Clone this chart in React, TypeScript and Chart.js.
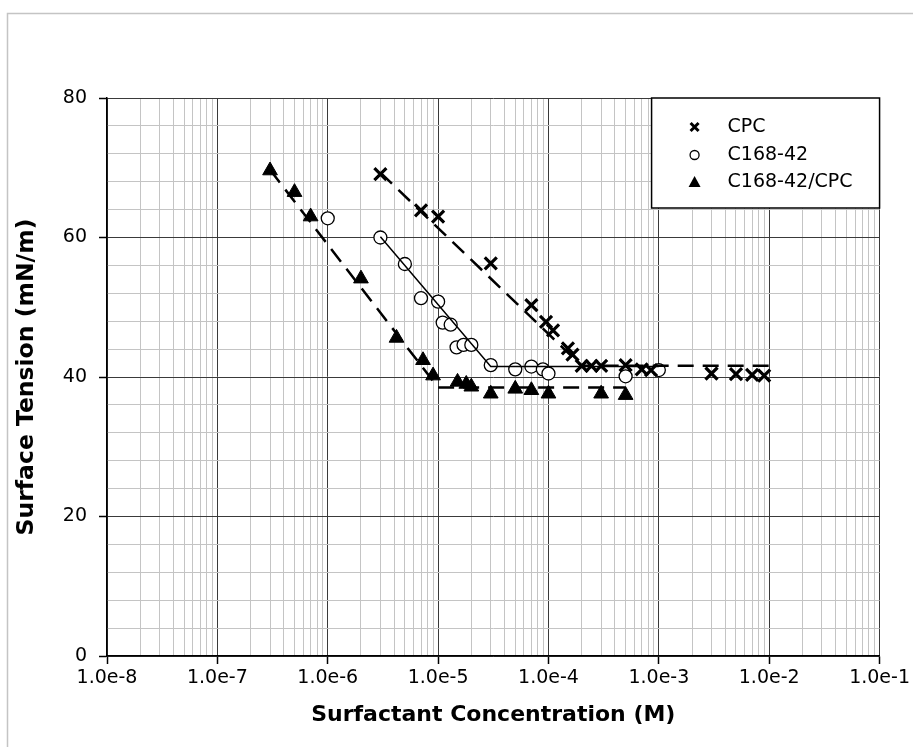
import React, { useEffect, useRef } from 'react';
import { Chart, registerables } from 'chart.js';

Chart.register(...registerables);

// ---- Axis ticks ----
const X_DECADES = [1e-8, 1e-7, 1e-6, 1e-5, 1e-4, 1e-3, 1e-2, 1e-1];
const X_TICK_LABELS = ['1.0e-8', '1.0e-7', '1.0e-6', '1.0e-5', '1.0e-4', '1.0e-3', '1.0e-2', '1.0e-1'];
const X_MINOR_MULTIPLIERS = [2, 3, 4, 5, 6, 7, 8, 9];
const Y_MIN = 0;
const Y_MAX = 80;
const Y_MINOR_STEP = 4;
const Y_MAJOR_STEP = 20;

// ---- Series: CPC (x) ----
const CPC_X = [3e-6, 7e-6, 1e-5, 3e-5, 7e-5, 9.5e-5, 1.1e-4, 1.5e-4, 1.65e-4, 2e-4, 2.45e-4, 3e-4, 5e-4, 7e-4, 8.5e-4, 3e-3, 5e-3, 7e-3, 9e-3];
const CPC_Y = [69.1, 63.9, 63.0, 56.3, 50.3, 47.9, 46.7, 44.1, 43.2, 41.6, 41.6, 41.6, 41.7, 41.1, 41.0, 40.5, 40.4, 40.3, 40.2];

// ---- Series: C168-42 (open circles) ----
const C168_X = [1e-6, 3e-6, 5e-6, 7e-6, 1e-5, 1.1e-5, 1.3e-5, 1.47e-5, 1.7e-5, 2e-5, 3e-5, 5e-5, 7e-5, 8.9e-5, 1e-4, 5e-4, 1e-3];
const C168_Y = [62.75, 60.0, 56.2, 51.3, 50.8, 47.8, 47.5, 44.25, 44.6, 44.6, 41.7, 41.1, 41.5, 41.1, 40.5, 40.1, 41.0];

// ---- Series: C168-42/CPC (filled triangles) ----
const MIX_X = [3e-7, 5e-7, 7e-7, 2e-6, 4.2e-6, 7.3e-6, 9e-6, 1.5e-5, 1.8e-5, 2e-5, 3e-5, 5e-5, 7e-5, 1e-4, 3e-4, 5e-4];
const MIX_Y = [69.6, 66.5, 63.0, 54.1, 45.6, 42.4, 40.2, 39.3, 39.0, 38.6, 37.6, 38.3, 38.1, 37.6, 37.6, 37.4];

// ---- Fit lines ----
const CPC_FIT_X = [3e-6, 2.0e-4, 1e-2];
const CPC_FIT_Y = [69.3, 41.6, 41.6];
const C168_FIT_X = [3e-6, 3e-5, 1e-3];
const C168_FIT_Y = [60.1, 41.5, 41.5];
const MIX_FIT_X = [3e-7, 1e-5, 5e-4];
const MIX_FIT_Y = [69.7, 38.5, 38.5];

const SERIES_LABELS = ['CPC', 'C168-42', 'C168-42/CPC'];

const FONT = 'DejaVu Sans';
const MAJOR_GRID = '#3a3a3a';
const MINOR_GRID = '#c4c4c4';

const toPoints = (xs: number[], ys: number[]) => xs.map((x, i) => ({ x, y: ys[i] }));

const isDecade = (v: number) => X_DECADES.some((d) => Math.abs(v - d) / d < 1e-9);

const buildXTicks = () => {
  const ticks: { value: number }[] = [];
  X_DECADES.forEach((d, i) => {
    ticks.push({ value: d });
    if (i < X_DECADES.length - 1) {
      X_MINOR_MULTIPLIERS.forEach((m) => ticks.push({ value: d * m }));
    }
  });
  return ticks;
};

const decorPlugin = {
  id: 'decor',
  beforeDraw(chart: any) {
    const { ctx, width, height } = chart;
    ctx.save();
    ctx.fillStyle = '#ffffff';
    ctx.fillRect(0, 0, width, height);
    ctx.strokeStyle = '#c4c4c4';
    ctx.lineWidth = 1.5;
    ctx.strokeRect(7.5, 13.5, width + 50, height + 50);
    ctx.restore();
  },
  afterDraw(chart: any) {
    const { ctx, chartArea } = chart;
    const w = 228;
    const h = 110;
    const x0 = chartArea.right - w;
    const y0 = chartArea.top;
    ctx.save();
    ctx.fillStyle = '#ffffff';
    ctx.fillRect(x0, y0, w, h);
    ctx.strokeStyle = '#000';
    ctx.lineWidth = 1.5;
    ctx.strokeRect(x0, y0, w, h);

    const mx = x0 + 43;
    const tx = x0 + 76;
    const rows = [y0 + 29, y0 + 57, y0 + 84];
    ctx.fillStyle = '#000';
    ctx.strokeStyle = '#000';

    // x marker
    ctx.lineWidth = 3;
    ctx.beginPath();
    const s = 4;
    ctx.moveTo(mx - s, rows[0] - s);
    ctx.lineTo(mx + s, rows[0] + s);
    ctx.moveTo(mx + s, rows[0] - s);
    ctx.lineTo(mx - s, rows[0] + s);
    ctx.stroke();

    // circle
    ctx.lineWidth = 1.3;
    ctx.beginPath();
    ctx.arc(mx, rows[1], 4.5, 0, Math.PI * 2);
    ctx.fillStyle = '#fff';
    ctx.fill();
    ctx.stroke();

    // triangle
    ctx.fillStyle = '#000';
    ctx.beginPath();
    ctx.moveTo(mx, rows[2] - 6);
    ctx.lineTo(mx + 6, rows[2] + 5);
    ctx.lineTo(mx - 6, rows[2] + 5);
    ctx.closePath();
    ctx.fill();

    ctx.font = `19px "${FONT}"`;
    ctx.textBaseline = 'middle';
    ctx.textAlign = 'left';
    SERIES_LABELS.forEach((lab, i) => ctx.fillText(lab, tx, rows[i]));
    ctx.restore();
  },
};

export default function App() {
  const ref = useRef<HTMLCanvasElement | null>(null);

  useEffect(() => {
    if (!ref.current) return;
    const chart = new Chart(ref.current, {
      type: 'scatter',
      data: {
        datasets: [
          {
            label: 'CPC fit',
            data: toPoints(CPC_FIT_X, CPC_FIT_Y),
            showLine: true,
            borderColor: '#000',
            borderWidth: 2.5,
            borderDash: [16, 9],
            pointRadius: 0,
            order: 0,
          },
          {
            label: 'C168-42 fit',
            data: toPoints(C168_FIT_X, C168_FIT_Y),
            showLine: true,
            borderColor: '#000',
            borderWidth: 1.5,
            pointRadius: 0,
            order: 0,
          },
          {
            label: 'C168-42/CPC fit',
            data: toPoints(MIX_FIT_X, MIX_FIT_Y),
            showLine: true,
            borderColor: '#000',
            borderWidth: 2.5,
            borderDash: [16, 9],
            pointRadius: 0,
            order: 0,
          },
          {
            label: SERIES_LABELS[0],
            data: toPoints(CPC_X, CPC_Y),
            pointStyle: 'crossRot',
            pointRadius: 8.5,
            borderColor: '#000',
            backgroundColor: '#000',
            borderWidth: 3.2,
            order: 1,
          },
          {
            label: SERIES_LABELS[1],
            data: toPoints(C168_X, C168_Y),
            pointStyle: 'circle',
            pointRadius: 6.5,
            borderColor: '#000',
            backgroundColor: '#fff',
            borderWidth: 1.3,
            order: 1,
          },
          {
            label: SERIES_LABELS[2],
            data: toPoints(MIX_X, MIX_Y),
            pointStyle: 'triangle',
            pointRadius: 8.5,
            borderColor: '#000',
            backgroundColor: '#000',
            borderWidth: 1,
            order: 1,
          },
        ],
      },
      options: {
        responsive: false,
        animation: false,
        layout: { padding: { top: 98, right: 33, left: 0, bottom: 0 } },
        plugins: {
          legend: { display: false },
          tooltip: { enabled: false },
        },
        scales: {
          x: {
            type: 'logarithmic',
            min: X_DECADES[0],
            max: X_DECADES[X_DECADES.length - 1],
            afterFit: (s: any) => {
              s.height = 91;
            },
            afterBuildTicks: (s: any) => {
              s.ticks = buildXTicks();
            },
            ticks: {
              autoSkip: false,
              maxRotation: 0,
              padding: 3,
              color: '#000',
              font: { family: FONT, size: 19 },
              callback: (v: any) => {
                const idx = X_DECADES.findIndex((d) => Math.abs(Number(v) - d) / d < 1e-9);
                return idx >= 0 ? X_TICK_LABELS[idx] : '';
              },
            },
            grid: {
              color: (c: any) => (c.tick && isDecade(c.tick.value) ? MAJOR_GRID : MINOR_GRID),
              lineWidth: 1,
              tickLength: 8,
              tickColor: (c: any) => (c.tick && isDecade(c.tick.value) ? '#000' : 'rgba(0,0,0,0)'),
              tickWidth: 1.5,
            },
            border: { display: true, color: '#000', width: 1.5 },
            title: {
              display: true,
              text: 'Surfactant Concentration (M)',
              color: '#000',
              font: { family: FONT, size: 22, weight: 'bold' },
              padding: { top: 0, bottom: 19 },
            },
          },
          y: {
            type: 'linear',
            min: Y_MIN,
            max: Y_MAX,
            afterFit: (s: any) => {
              s.width = 107;
            },
            ticks: {
              stepSize: Y_MINOR_STEP,
              autoSkip: false,
              padding: 12,
              color: '#000',
              font: { family: FONT, size: 19 },
              callback: (v: any) => (Number(v) % Y_MAJOR_STEP === 0 ? String(v) : ''),
            },
            grid: {
              color: (c: any) => (c.tick && c.tick.value % Y_MAJOR_STEP === 0 ? MAJOR_GRID : MINOR_GRID),
              lineWidth: 1,
              tickLength: 8,
              tickColor: (c: any) => (c.tick && c.tick.value % Y_MAJOR_STEP === 0 ? '#000' : 'rgba(0,0,0,0)'),
              tickWidth: 1.5,
            },
            border: { display: true, color: '#000', width: 1.5 },
            title: {
              display: true,
              text: 'Surface Tension (mN/m)',
              color: '#000',
              font: { family: FONT, size: 23.5, weight: 'bold' },
              padding: { top: 13, bottom: 0 },
            },
          },
        },
      },
      plugins: [decorPlugin],
    } as any);
    return () => chart.destroy();
  }, []);

  return (
    <div style={{ position: 'fixed', left: 0, top: 0, width: 913, height: 747, overflow: 'hidden', background: '#fff' }}>
      <canvas ref={ref} width={913} height={747} style={{ display: 'block', width: 913, height: 747 }} />
    </div>
  );
}
